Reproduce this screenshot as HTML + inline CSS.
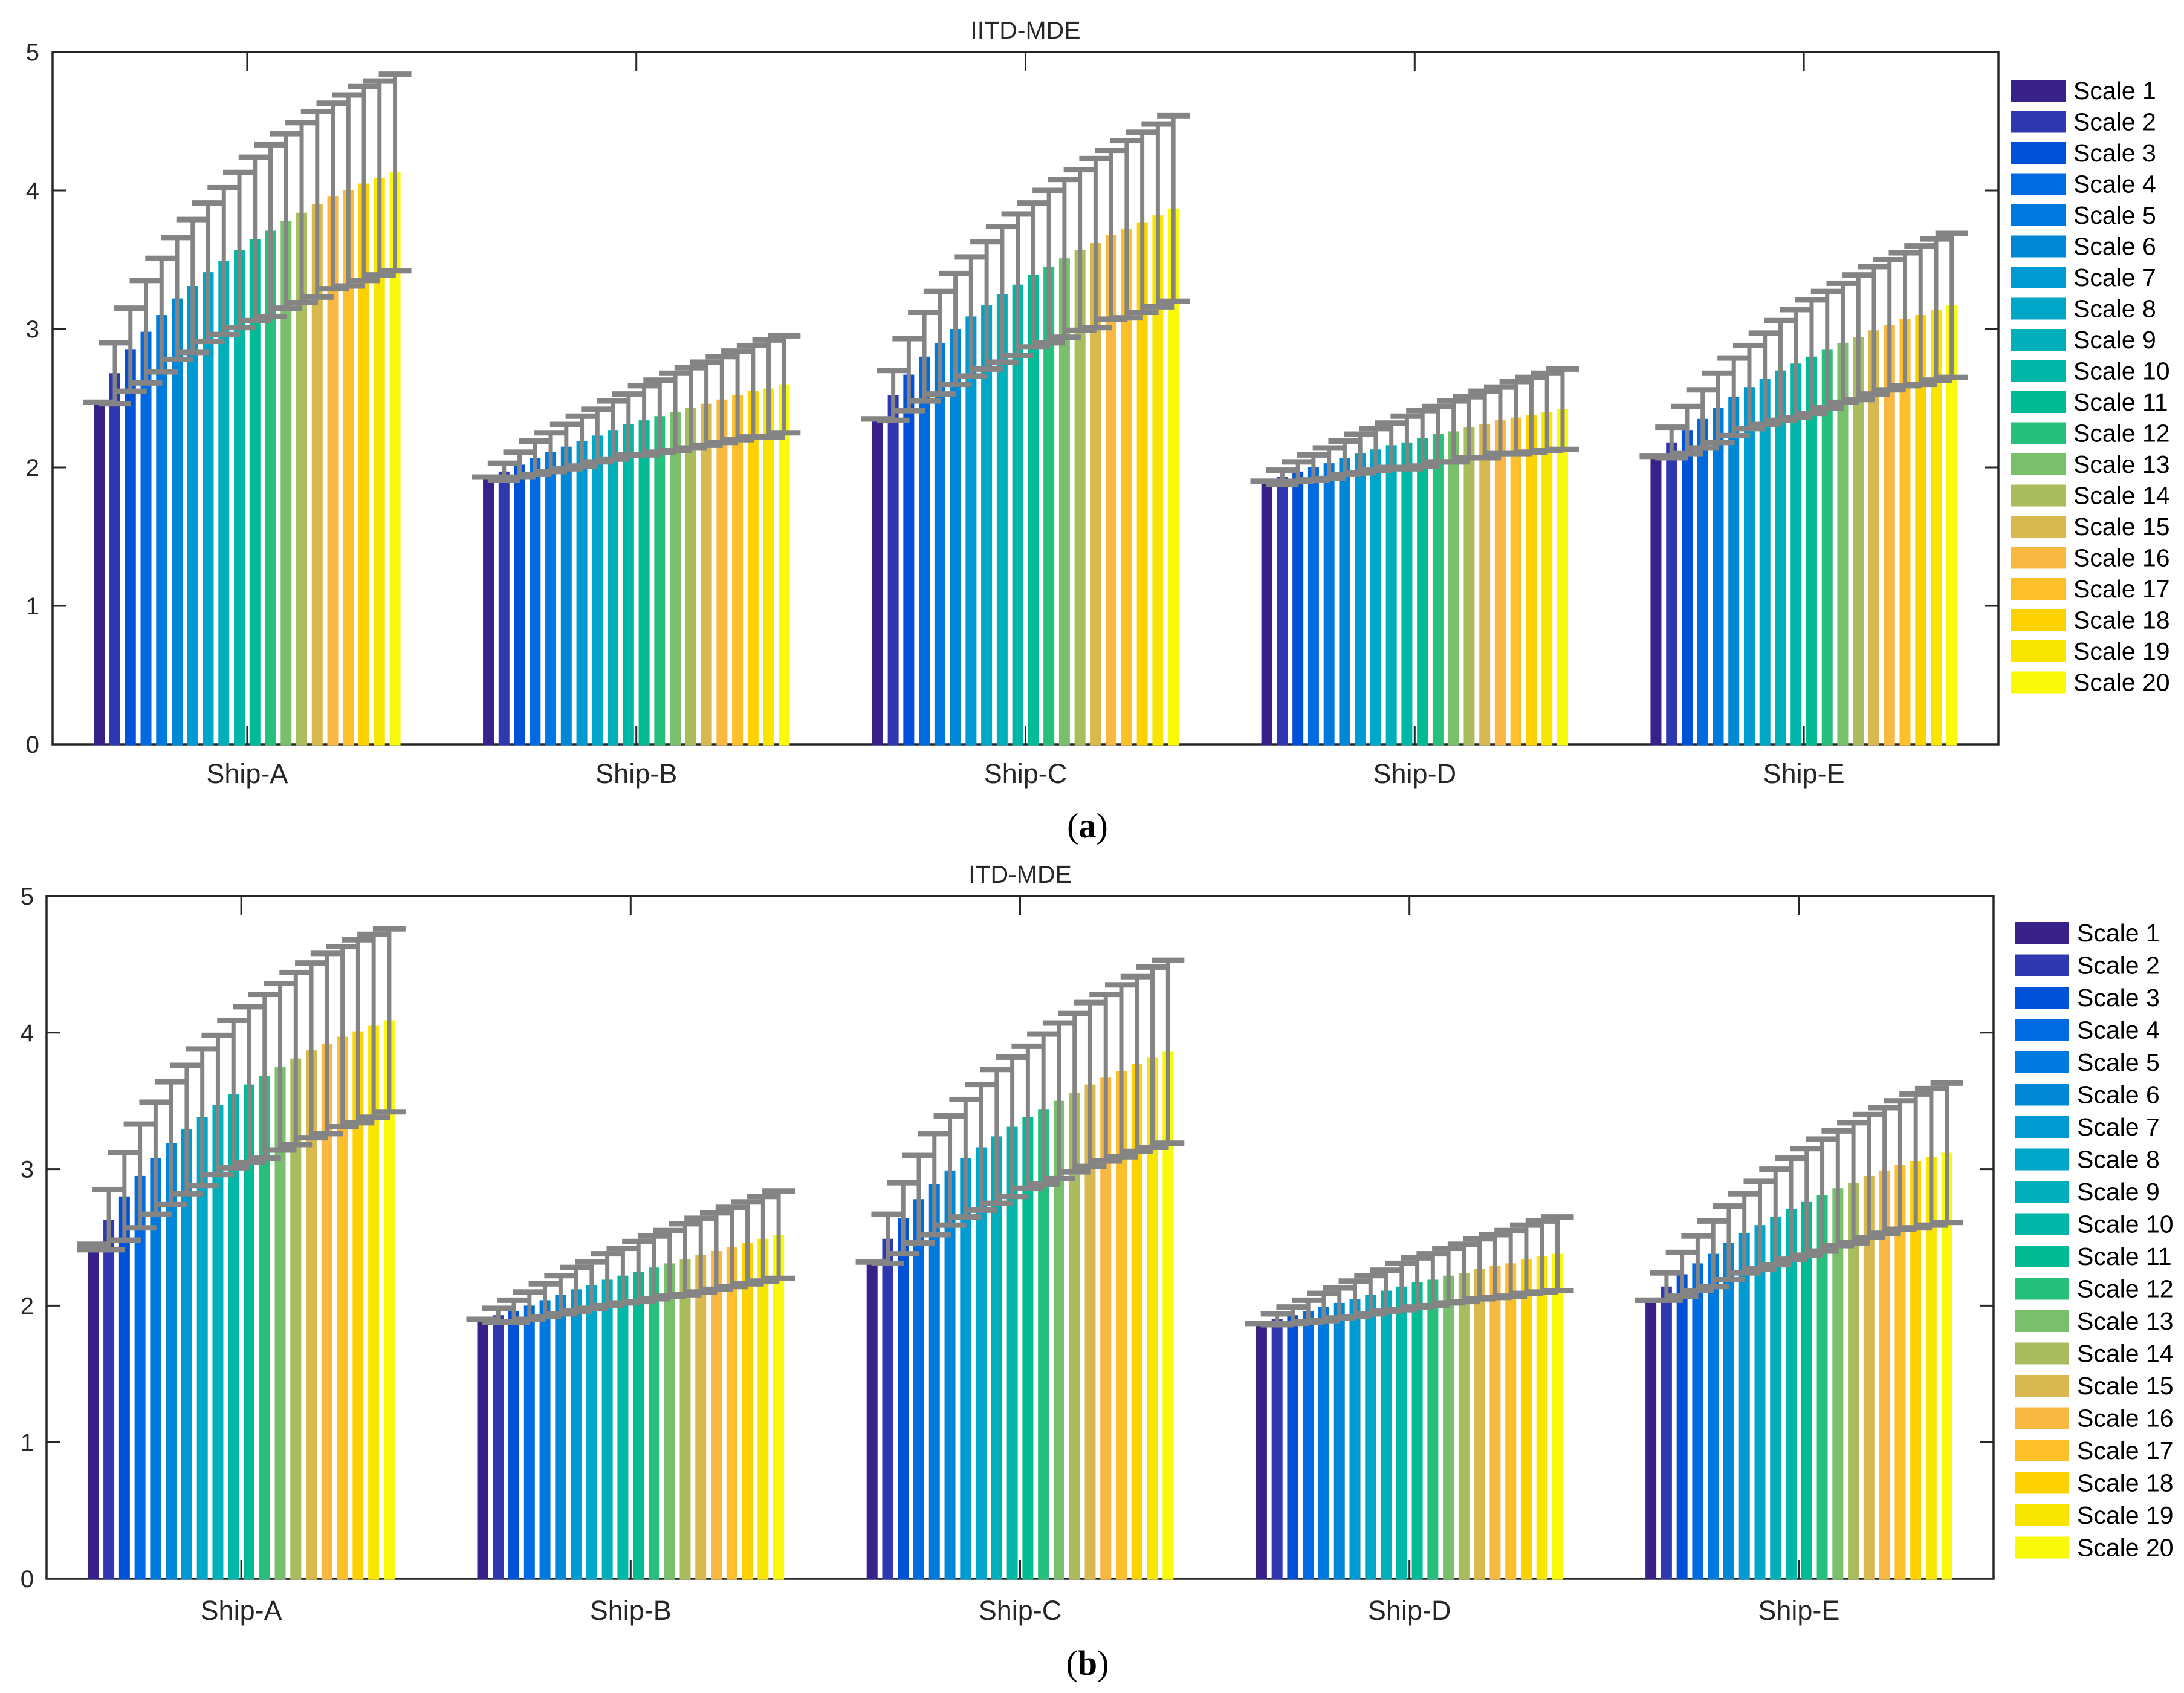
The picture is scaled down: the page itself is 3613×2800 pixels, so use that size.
<!DOCTYPE html>
<html><head><meta charset="utf-8"><style>
html,body{margin:0;padding:0;background:#fff;}
svg{display:block;}
text{font-family:"Liberation Sans",sans-serif;fill:#262626;}
</style></head><body>
<svg id="fig" width="3613" height="2800" viewBox="0 0 3613 2800" xmlns="http://www.w3.org/2000/svg"></svg>
<script>
const ships = ["Ship-A","Ship-B","Ship-C","Ship-D","Ship-E"];
const scaleNames = ["Scale 1","Scale 2","Scale 3","Scale 4","Scale 5","Scale 6","Scale 7","Scale 8","Scale 9","Scale 10","Scale 11","Scale 12","Scale 13","Scale 14","Scale 15","Scale 16","Scale 17","Scale 18","Scale 19","Scale 20"];
const yTicks = [0,1,2,3,4,5];
// panel (a) IITD-MDE
const aMeanA = [2.47,2.68,2.85,2.98,3.10,3.22,3.31,3.41,3.49,3.57,3.65,3.71,3.78,3.84,3.90,3.96,4.00,4.05,4.09,4.13];
const aErrA  = [0,0.22,0.30,0.37,0.41,0.44,0.48,0.50,0.53,0.56,0.59,0.62,0.63,0.65,0.67,0.67,0.69,0.70,0.70,0.71];
const aMeanB = [1.93,1.97,2.02,2.07,2.11,2.15,2.19,2.23,2.27,2.31,2.34,2.37,2.40,2.43,2.46,2.49,2.52,2.55,2.57,2.60];
const aErrB  = [0,0.06,0.09,0.12,0.14,0.16,0.18,0.19,0.21,0.22,0.25,0.26,0.28,0.29,0.30,0.31,0.32,0.33,0.35,0.35];
const aMeanC = [2.35,2.52,2.67,2.80,2.90,3.00,3.09,3.17,3.25,3.32,3.39,3.45,3.51,3.57,3.62,3.68,3.72,3.77,3.82,3.87];
const aErrC  = [0,0.18,0.26,0.32,0.37,0.40,0.43,0.46,0.49,0.51,0.52,0.55,0.57,0.58,0.61,0.61,0.64,0.65,0.66,0.67];
const aMeanD = [1.90,1.93,1.97,2.00,2.03,2.07,2.10,2.13,2.16,2.18,2.21,2.24,2.26,2.29,2.31,2.34,2.36,2.38,2.40,2.42];
const aErrD  = [0,0.05,0.07,0.09,0.11,0.12,0.14,0.15,0.16,0.19,0.20,0.20,0.22,0.22,0.24,0.24,0.26,0.27,0.28,0.29];
const aMeanE = [2.08,2.18,2.27,2.35,2.43,2.51,2.58,2.64,2.70,2.75,2.80,2.85,2.90,2.94,2.99,3.03,3.07,3.10,3.14,3.17];
const aErrE  = [0,0.11,0.17,0.21,0.25,0.28,0.30,0.33,0.36,0.39,0.41,0.42,0.43,0.45,0.46,0.47,0.48,0.50,0.51,0.52];
// panel (b) ITD-MDE
const bMeanA = [2.43,2.63,2.80,2.95,3.08,3.19,3.29,3.38,3.47,3.55,3.62,3.68,3.75,3.81,3.87,3.92,3.97,4.01,4.05,4.09];
const bErrA  = [0.02,0.22,0.32,0.38,0.41,0.45,0.47,0.50,0.51,0.54,0.57,0.60,0.61,0.63,0.64,0.66,0.66,0.67,0.67,0.67];
const bMeanB = [1.90,1.93,1.96,2.00,2.04,2.08,2.12,2.15,2.19,2.22,2.25,2.28,2.31,2.34,2.37,2.40,2.43,2.46,2.49,2.52];
const bErrB  = [0,0.05,0.08,0.10,0.12,0.14,0.16,0.17,0.19,0.20,0.22,0.23,0.24,0.26,0.27,0.28,0.29,0.30,0.31,0.32];
const bMeanC = [2.32,2.49,2.64,2.78,2.89,2.99,3.08,3.16,3.24,3.31,3.38,3.44,3.50,3.56,3.62,3.67,3.72,3.77,3.82,3.86];
const bErrC  = [0,0.18,0.26,0.32,0.37,0.40,0.43,0.46,0.49,0.51,0.52,0.55,0.57,0.58,0.60,0.61,0.63,0.64,0.66,0.67];
const bMeanD = [1.87,1.90,1.93,1.96,1.99,2.02,2.05,2.08,2.11,2.14,2.17,2.19,2.22,2.24,2.27,2.29,2.31,2.34,2.36,2.38];
const bErrD  = [0,0.04,0.06,0.08,0.10,0.11,0.13,0.14,0.15,0.17,0.18,0.19,0.20,0.21,0.22,0.23,0.24,0.25,0.26,0.27];
const bMeanE = [2.04,2.14,2.23,2.31,2.38,2.46,2.53,2.59,2.65,2.71,2.76,2.81,2.86,2.90,2.95,2.99,3.03,3.06,3.09,3.12];
const bErrE  = [0,0.10,0.16,0.20,0.24,0.27,0.29,0.32,0.35,0.37,0.39,0.41,0.42,0.44,0.45,0.46,0.47,0.49,0.50,0.51];

const colors = ["#38228a","#2f38b0","#0050d8","#006ae2","#0079df","#0087d6","#009ad2","#00a6c8","#00afba","#00b6a6","#00bb93","#26bf7b","#7abf6c","#a9bd5f","#d8b950","#f8b842","#fdbf2a","#fed200","#f8e500","#f8fa0a"];

const NS="http://www.w3.org/2000/svg";
const svg=document.getElementById('fig');
function mk(tag,attrs,parent){const e=document.createElementNS(NS,tag);for(const k in attrs)e.setAttribute(k,attrs[k]);(parent||svg).appendChild(e);return e;}

function panel(cfg){
  const g=mk('g',{});
  
  
  const {L,R,T,B}=cfg;
  const xs=(i)=>L+(R-L)*(i+0.5)/ships.length;
  const slot=(R-L)/ships.length*0.8/20;
  const ys=(v)=>B-(B-T)*v/5;
  const box=mk('rect',{x:L,y:T,width:R-L,height:B-T,fill:'none',stroke:'#262626','stroke-width':3.5},g);
  
  
  yTicks.forEach(v=>{
    const y=ys(v);
    mk('line',{x1:L,y1:y,x2:L+22,y2:y,stroke:'#262626','stroke-width':3},g);
    mk('line',{x1:R,y1:y,x2:R-22,y2:y,stroke:'#262626','stroke-width':3},g);
    const t=mk('text',{x:cfg.ylabX,y:y+14,'text-anchor':'end','font-size':40},g);
    t.textContent=v;
    
    
  });
  ships.forEach((s,i)=>{
    const x=xs(i);
    mk('line',{x1:x,y1:B,x2:x,y2:B-31,stroke:'#262626','stroke-width':3},g);
    mk('line',{x1:x,y1:T,x2:x,y2:T+31,stroke:'#262626','stroke-width':3},g);
    const t=mk('text',{x:x,y:cfg.xlabY,'text-anchor':'middle','font-size':45},g);
    t.textContent=s;
    
    
  });
  cfg.means.forEach((arr,i)=>{
    arr.forEach((v,j)=>{
      const cx=xs(i)+(j-9.5)*slot;
      const r=mk('rect',{x:cx-9,y:ys(v),width:18,height:B-ys(v)+1.5,fill:colors[j]},g);
      
      
    });
  });
  cfg.means.forEach((arr,i)=>{
    arr.forEach((v,j)=>{
      const cx=xs(i)+(j-9.5)*slot;
      const e=cfg.errs[i][j];
      const eg=mk('g',{fill:'#848484'},g);
      
      
      const yt=ys(v+e), yb=ys(v-e);
      mk('rect',{x:cx-3.5,y:yt,width:7,height:yb-yt},eg);
      mk('rect',{x:cx-27,y:yt-4.5,width:54,height:9},eg);
      mk('rect',{x:cx-27,y:yb-4.5,width:54,height:9},eg);
    });
  });
  const tt=mk('text',{x:(L+R)/2,y:cfg.titleY,'text-anchor':'middle','font-size':41},g);
  tt.textContent=cfg.title;
  
  
  const lg=mk('g',{},g);
  
  
  scaleNames.forEach((n,j)=>{
    const y=cfg.legY+j*cfg.legPitch;
    const sw=mk('rect',{x:cfg.legX,y:y,width:90,height:36,fill:colors[j]},lg);
    
    
    const t=mk('text',{x:cfg.legX+103,y:y+32,'font-size':41,fill:'#000'},lg);
    t.setAttribute('style','fill:#000');
    t.textContent=n;
    
    
  });
  const pl=mk('text',{x:1799,y:cfg.panelY,'text-anchor':'middle','font-size':58},g);
  pl.setAttribute('style','font-family:"Liberation Serif",serif;fill:#000');
  pl.innerHTML='(<tspan font-weight="bold">'+cfg.panelLetter+'</tspan>)';
  
  
}

panel({id:'panel-a-iitd-mde',title:'IITD-MDE',L:87,R:3306,T:86,B:1231,ylabX:65,xlabY:1295,titleY:64,
  means:[aMeanA,aMeanB,aMeanC,aMeanD,aMeanE],errs:[aErrA,aErrB,aErrC,aErrD,aErrE],
  legX:3327,legY:132,legPitch:51.5,panelY:1385,panelLetter:'a'});
panel({id:'panel-b-itd-mde',title:'ITD-MDE',L:77,R:3298,T:1482,B:2611,ylabX:56,xlabY:2679,titleY:1460,
  means:[bMeanA,bMeanB,bMeanC,bMeanD,bMeanE],errs:[bErrA,bErrB,bErrC,bErrD,bErrE],
  legX:3333,legY:1525,legPitch:53.5,panelY:2770,panelLetter:'b'});
</script>
</body></html>
